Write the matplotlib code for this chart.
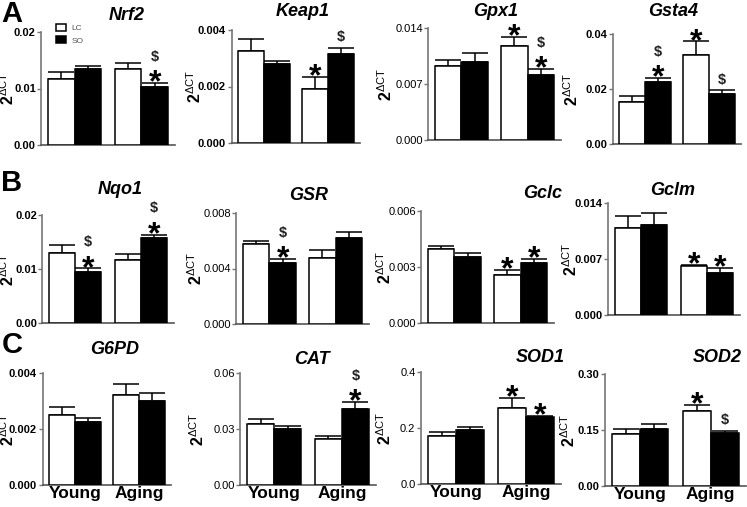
import matplotlib
matplotlib.use("Agg")
import matplotlib.pyplot as plt

# gene panels, row by row
genes = ["Nrf2", "Keap1", "Gpx1", "Gsta4",
         "Nqo1", "GSR", "Gclc", "Gclm",
         "G6PD", "CAT", "SOD1", "SOD2"]

# means: LC young, SO young, LC aging, SO aging
means = [
    [0.0117, 0.0135, 0.0135, 0.0102],
    [0.00326, 0.00279, 0.00191, 0.00314],
    [0.0092, 0.0097, 0.0118, 0.0081],
    [0.0152, 0.0225, 0.0322, 0.0181],
    [0.0129, 0.0095, 0.0116, 0.0158],
    [0.00575, 0.00443, 0.00479, 0.00623],
    [0.00395, 0.00354, 0.00259, 0.00323],
    [0.0109, 0.0112, 0.0061, 0.0053],
    [0.00249, 0.00226, 0.00323, 0.0030],
    [0.0329, 0.0301, 0.0249, 0.0409],
    [0.173, 0.193, 0.272, 0.240],
    [0.139, 0.153, 0.201, 0.143],
]
sems = [
    [0.0013, 0.0005, 0.0011, 0.0008],
    [0.00042, 0.00013, 0.00044, 0.00024],
    [0.00076, 0.00113, 0.00104, 0.00075],
    [0.0023, 0.0016, 0.0051, 0.0015],
    [0.0015, 0.0006, 0.0012, 0.00055],
    [0.0002, 0.00024, 0.00053, 0.00038],
    [0.0002, 0.0002, 0.00027, 0.00018],
    [0.0015, 0.0016, 0.0002, 0.00054],
    [0.0003, 0.00014, 0.00037, 0.00029],
    [0.0027, 0.0016, 0.0014, 0.0036],
    [0.011, 0.012, 0.036, 0.003],
    [0.013, 0.013, 0.016, 0.005],
]
# significance marks per bar
marks = [
    ["", "", "", "*$"],
    ["", "", "*", "$"],
    ["", "", "*", "*$"],
    ["", "*$", "*", "$"],
    ["", "*$", "", "*$"],
    ["", "*$", "", ""],
    ["", "", "*", "*"],
    ["", "", "*", "*"],
    ["", "", "", ""],
    ["", "", "", "*$"],
    ["", "", "*", "*"],
    ["", "", "*", "$"],
]
yticklabels = [
    ["0.00", "0.01", "0.02"], ["0.000", "0.002", "0.004"],
    ["0.000", "0.007", "0.014"], ["0.00", "0.02", "0.04"],
    ["0.00", "0.01", "0.02"], ["0.000", "0.004", "0.008"],
    ["0.000", "0.003", "0.006"], ["0.000", "0.007", "0.014"],
    ["0.000", "0.002", "0.004"], ["0.00", "0.03", "0.06"],
    ["0.0", "0.2", "0.4"], ["0.00", "0.15", "0.30"],
]
groups = ["Young", "Aging"]
series = ["LC", "SO"]
panel_letters = ["A", "B", "C"]

W, H = 747, 507
fig = plt.figure(figsize=(W / 100, H / 100), dpi=100)
plt.rcParams["font.family"] = ["Liberation Sans", "DejaVu Sans"]
plt.rcParams["mathtext.fontset"] = "custom"
plt.rcParams["mathtext.rm"] = "Liberation Sans"
plt.rcParams["mathtext.bf"] = "Liberation Sans:bold"
narrow = ["Liberation Sans Narrow", "Liberation Sans", "DejaVu Sans"]

# layout in pixels: first bar left, last bar right, top tick, zero line
boxes = [
    (48, 168, 32, 145), (238, 354, 30, 143), (435, 554, 28, 140), (619, 735, 34, 144),
    (49, 167, 215, 323), (243, 362, 213, 324), (428, 547, 211, 323), (615, 733, 203, 315),
    (49, 165, 373, 485), (247, 369, 373, 485), (428, 554, 372, 484), (612, 739, 374, 486),
]
title_pos = [
    (127, 16), (303, 11), (496, 11), (673, 11),
    (120, 190), (309, 195), (543, 193), (673, 191),
    (115, 350), (312, 360), (540, 358), (717, 358),
]
ylabel_x = [8, 195, 386, 572, 8, 196, 385, 571, 8, 198, 385, 569]
bold_ticks = [True, True, False, True, True, False, False, True, True, False, False, True]

xpos = [0, 1, 2.5, 3.5]
faces = ["white", "black", "white", "black"]

for i, gene in enumerate(genes):
    bl, br, top, zero = boxes[i]
    unit = (br - bl) / 4.5
    L = bl - 0.25 * unit
    R = br + 0.25 * unit
    ax = fig.add_axes([L / W, 1 - zero / H, (R - L) / W, (zero - top) / H])
    ymax = float(yticklabels[i][-1])

    bars = ax.bar(xpos, means[i], width=1.0, color=faces, edgecolor="black",
                  linewidth=1.1, zorder=3)
    ax.errorbar(xpos, means[i], yerr=[[0] * 4, sems[i]], fmt="none",
                ecolor="black", elinewidth=1.1, capsize=9.5, capthick=1.1, zorder=2)

    for x, m, e, mk in zip(xpos, means[i], sems[i], marks[i]):
        top_err = m + e
        if "*" in mk:
            ax.annotate("*", (x, top_err), xytext=(0, -6), textcoords="offset points",
                        ha="center", va="baseline", fontsize=23, fontweight="bold",
                        annotation_clip=False)
        if "$" in mk:
            off = 16 if "*" in mk else 4.5
            ax.annotate("\\$", (x, top_err), xytext=(0, off), textcoords="offset points",
                        ha="center", va="baseline", fontsize=10.5, fontweight="bold",
                        color="#222222", annotation_clip=False)

    ax.set_xlim(-0.75, 4.25)
    ax.set_ylim(0, ymax)
    ax.set_yticks([0, ymax / 2, ymax])
    ax.set_yticklabels(yticklabels[i], fontfamily=narrow, fontsize=8,
                       fontweight="bold" if bold_ticks[i] else "normal")
    ax.tick_params(axis="y", length=3, width=1, color="#777777", pad=1)
    for s in ["top", "right"]:
        ax.spines[s].set_visible(False)
    ax.spines["left"].set_color("#777777")
    ax.spines["bottom"].set_color("#555555")
    ax.spines["left"].set_linewidth(1.2)
    ax.spines["bottom"].set_linewidth(1.2)
    ax.patch.set_alpha(0)

    if i >= 8:
        ax.set_xticks([0.5, 3.0])
        ax.set_xticklabels(groups, fontsize=12.5, fontweight="bold")
        ax.tick_params(axis="x", length=0, pad=1)
    else:
        ax.set_xticks([])

    if i == 0:
        ax.legend(bars[:2], series, loc="upper left", bbox_to_anchor=(0.05, 1.14),
                  frameon=False, fontsize=6, handlelength=1.3, handleheight=0.9,
                  labelspacing=0.5, handletextpad=0.6, labelcolor="#555555")

    tx, ty = title_pos[i]
    fig.text(tx / W, 1 - ty / H, gene, ha="center", va="center", fontsize=13,
             fontweight="bold", fontstyle="italic")
    fig.text(ylabel_x[i] / W, 1 - (top + zero) / 2 / H, r"$\mathbf{2}^{\Delta \mathrm{CT}}$",
             rotation=90, ha="center", va="center", fontsize=11.5)

for letter, ly in zip(panel_letters, [14, 183, 345]):
    fig.text(12 / W, 1 - ly / H, letter, ha="center", va="center", fontsize=21,
             fontweight="bold")

fig.savefig("out.png", dpi=100)
